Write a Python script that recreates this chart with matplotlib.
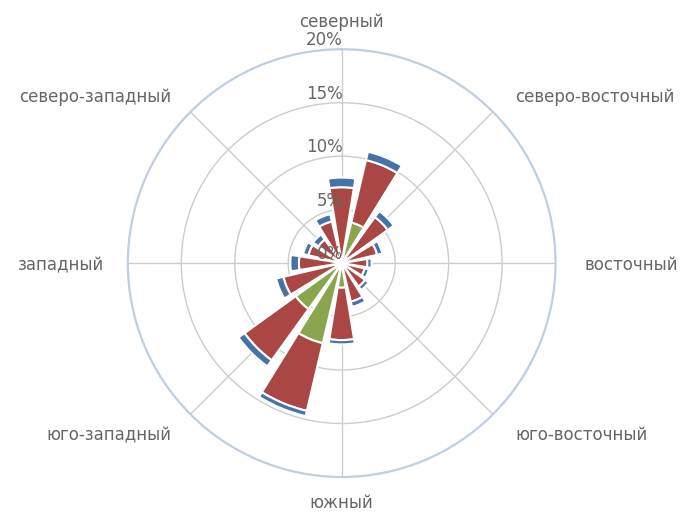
import matplotlib.pyplot as plt
import matplotlib.transforms as mtransforms
import numpy as np

# 16 directions, clockwise from north; values are percent of time
green = [0, 3.9, 0, 0, 0, 0, 0, 0, 2.3, 7.7, 5.3, 0, 0, 0, 0, 0]
red = [7.1, 6.0, 5.3, 3.4, 2.4, 2.2, 2.7, 3.7, 4.9, 6.5, 5.9, 5.6, 4.0, 3.2, 2.7, 4.0]
blue = [0.9, 0.8, 0.7, 0.5, 0.4, 0.4, 0.4, 0.5, 0.4, 0.5, 0.7, 0.7, 0.8, 0.5, 0.6, 0.7]

labels = ["северный", "северо-восточный", "восточный", "юго-восточный",
          "южный", "юго-западный", "западный", "северо-западный"]
r_ticks = [0, 5, 10, 15, 20]

# label offsets from the outer circle, pixels (layout only)
label_off = [(0, 27, "center"), (22, 15, "left"), (29, -2, "left"), (22, -21, "left"),
             (0, -26, "center"), (-19, -21, "right"), (-24, -2, "right"), (-19, 15, "right")]


def main() -> None:
    fig = plt.figure(figsize=(6.8, 5.16), dpi=100)
    ax = fig.add_axes([0.188, 0.0756, 0.629, 0.829], projection="polar")
    ax.set_theta_zero_location("N")
    ax.set_theta_direction(-1)

    n = len(green)
    theta = np.arange(n) * 2 * np.pi / n
    g = np.array(green)
    r = np.array(red)
    b = np.array(blue)
    kw = dict(width=2 * np.pi / n * 0.82, edgecolor="white", linewidth=1.5,
              joinstyle="round", zorder=2)
    ax.bar(theta, g, color="#89A54E", **kw)
    ax.bar(theta, r, bottom=g, color="#AA4643", **kw)
    ax.bar(theta, b, bottom=g + r, color="#4572A7", **kw)

    ax.set_ylim(0, r_ticks[-1])
    ax.set_yticks(r_ticks[1:])
    ax.set_yticklabels([])
    spokes = np.arange(len(labels)) * 2 * np.pi / len(labels)
    ax.set_xticks(spokes)
    ax.set_xticklabels([])
    ax.tick_params(length=0)
    ax.grid(color="#CCCCCC", linewidth=1)
    ax.set_axisbelow(True)
    ax.spines["polar"].set_color("#C0CFDF")
    ax.spines["polar"].set_linewidth(1.6)

    for v in r_ticks:
        ax.text(0, v, f"{v}%", ha="right", va="bottom", fontsize=12,
                color="#666666", zorder=5,
                transform=mtransforms.offset_copy(ax.transData, fig, x=1, y=0, units="dots"))

    for ang, lab, (dx, dy, ha) in zip(spokes, labels, label_off):
        ax.text(ang, r_ticks[-1], lab, ha=ha, va="center", fontsize=12,
                color="#666666", clip_on=False,
                transform=mtransforms.offset_copy(ax.transData, fig, x=dx, y=dy, units="dots"))

    fig.savefig("out.png", dpi=100)


if __name__ == "__main__":
    main()
